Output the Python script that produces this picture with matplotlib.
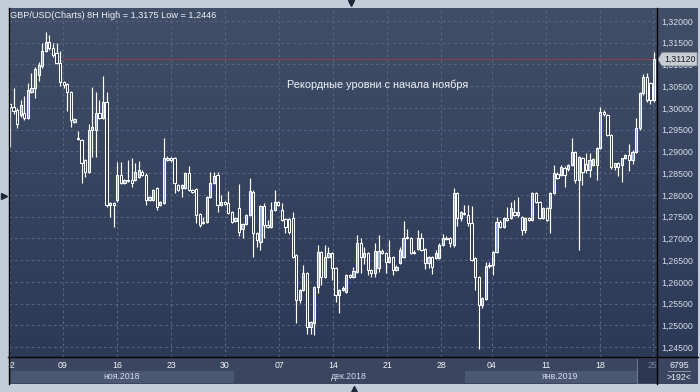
import numpy as np
import matplotlib
matplotlib.use("Agg")
import matplotlib.pyplot as plt
from matplotlib.patches import Rectangle, Polygon
from matplotlib.lines import Line2D
from matplotlib.colors import LinearSegmentedColormap

plt.rcParams['font.family'] = ['Liberation Sans', 'DejaVu Sans']

# ---------------- data (GBP/USD, 8H candles) ----------------
open_ = [
1.3009,1.3002,1.2995,1.2984,1.2988,1.2977,1.3037,1.3046,1.3076,1.3096,
1.3131,1.3152,1.3138,1.3126,1.3103,1.3060,1.3055,1.3037,1.2968,1.2929,
1.2926,1.2880,1.2853,1.2949,1.2949,1.2988,1.2977,1.3014,1.2777,1.2781,
1.2788,1.2846,1.2827,1.2831,1.2834,1.2834,1.2841,1.2853,1.2846,1.2788,
1.2788,1.2816,1.2777,1.2781,1.2880,1.2885,1.2885,1.2823,1.2816,1.2816,
1.2850,1.2811,1.2813,1.2756,1.2735,1.2738,1.2795,1.2827,1.2846,1.2777,
1.2784,1.2781,1.2760,1.2740,1.2770,1.2722,1.2733,1.2754,1.2807,1.2712,
1.2692,1.2774,1.2731,1.2726,1.2765,1.2784,1.2765,1.2744,1.2744,1.2747,
1.2662,1.2558,1.2581,1.2620,1.2496,1.2505,1.2588,1.2669,1.2611,1.2657,
1.2666,1.2632,1.2570,1.2581,1.2577,1.2616,1.2611,1.2623,1.2689,1.2657,
1.2666,1.2627,1.2620,1.2632,1.2671,1.2666,1.2646,1.2657,1.2627,1.2643,
1.2657,1.2701,1.2701,1.2666,1.2676,1.2701,1.2676,1.2643,1.2657,1.2655,
1.2655,1.2685,1.2701,1.2701,1.2685,1.2804,1.2747,1.2759,1.2754,1.2735,
1.2655,1.2611,1.2547,1.2561,1.2636,1.2639,1.2669,1.2738,1.2726,1.2747,
1.2747,1.2761,1.2754,1.2749,1.2719,1.2747,1.2742,1.2804,1.2784,1.2747,
1.2770,1.2770,1.2804,1.2848,1.2846,1.2862,1.2859,1.2869,1.2899,1.2834,
1.2885,1.2871,1.2857,1.2869,1.2869,1.2908,1.2991,1.2984,1.2938,1.2864,
1.2873,1.2869,1.2885,1.2892,1.2880,1.2899,1.2954,1.3034,1.3071,1.3057,
1.3018]

high = [
1.3012,1.3046,1.2999,1.3018,1.3028,1.3057,1.3080,1.3094,1.3106,1.3149,
1.3175,1.3168,1.3149,1.3149,1.3131,1.3062,1.3058,1.3040,1.2977,1.2947,
1.2929,1.2882,1.2964,1.3048,1.3037,1.3018,1.3073,1.3037,1.2784,1.2784,
1.2876,1.2876,1.2836,1.2880,1.2885,1.2873,1.2878,1.2857,1.2850,1.2797,
1.2814,1.2818,1.2786,1.2931,1.2890,1.2888,1.2888,1.2826,1.2826,1.2853,
1.2866,1.2814,1.2816,1.2758,1.2750,1.2797,1.2853,1.2853,1.2853,1.2800,
1.2786,1.2809,1.2763,1.2749,1.2825,1.2736,1.2757,1.2839,1.2811,1.2715,
1.2777,1.2781,1.2742,1.2784,1.2811,1.2786,1.2781,1.2747,1.2747,1.2761,
1.2665,1.2584,1.2639,1.2623,1.2510,1.2591,1.2685,1.2672,1.2685,1.2680,
1.2669,1.2635,1.2584,1.2590,1.2619,1.2619,1.2634,1.2708,1.2700,1.2680,
1.2669,1.2630,1.2690,1.2708,1.2675,1.2669,1.2696,1.2660,1.2639,1.2680,
1.2740,1.2722,1.2704,1.2673,1.2719,1.2712,1.2679,1.2660,1.2660,1.2673,
1.2690,1.2710,1.2705,1.2703,1.2816,1.2806,1.2763,1.2777,1.2777,1.2775,
1.2658,1.2614,1.2565,1.2645,1.2645,1.2672,1.2749,1.2742,1.2749,1.2772,
1.2784,1.2788,1.2795,1.2752,1.2749,1.2750,1.2806,1.2807,1.2787,1.2772,
1.2773,1.2806,1.2869,1.2853,1.2869,1.2866,1.2871,1.2931,1.2902,1.2890,
1.2888,1.2896,1.2896,1.2885,1.2911,1.3002,1.2995,1.2987,1.2941,1.2874,
1.2876,1.2885,1.2894,1.2918,1.2903,1.2976,1.3037,1.3078,1.3080,1.3060,
1.3129]

low = [
1.2910,1.2986,1.2954,1.2980,1.2972,1.2975,1.3034,1.3023,1.3062,1.3092,
1.3128,1.3134,1.3118,1.3100,1.3051,1.3046,1.2994,1.2957,1.2965,1.2927,
1.2827,1.2841,1.2850,1.2887,1.2887,1.2975,1.2975,1.2772,1.2749,1.2726,
1.2784,1.2825,1.2825,1.2829,1.2818,1.2831,1.2838,1.2843,1.2777,1.2786,
1.2786,1.2765,1.2774,1.2779,1.2878,1.2876,1.2804,1.2808,1.2796,1.2813,
1.2808,1.2804,1.2735,1.2726,1.2733,1.2735,1.2793,1.2825,1.2761,1.2775,
1.2777,1.2756,1.2735,1.2738,1.2706,1.2701,1.2730,1.2751,1.2657,1.2680,
1.2673,1.2701,1.2724,1.2724,1.2763,1.2775,1.2740,1.2712,1.2710,1.2655,
1.2506,1.2551,1.2578,1.2481,1.2481,1.2478,1.2574,1.2593,1.2608,1.2655,
1.2604,1.2554,1.2528,1.2578,1.2574,1.2608,1.2608,1.2620,1.2620,1.2640,
1.2616,1.2612,1.2612,1.2623,1.2664,1.2621,1.2643,1.2616,1.2624,1.2640,
1.2654,1.2698,1.2663,1.2664,1.2673,1.2671,1.2629,1.2632,1.2618,1.2652,
1.2652,1.2682,1.2696,1.2680,1.2680,1.2728,1.2740,1.2754,1.2728,1.2647,
1.2581,1.2446,1.2540,1.2558,1.2632,1.2616,1.2666,1.2724,1.2724,1.2740,
1.2744,1.2752,1.2750,1.2708,1.2712,1.2740,1.2740,1.2782,1.2745,1.2744,
1.2740,1.2712,1.2801,1.2836,1.2843,1.2818,1.2855,1.2866,1.2827,1.2673,
1.2823,1.2850,1.2841,1.2866,1.2834,1.2905,1.2982,1.2935,1.2860,1.2858,
1.2843,1.2830,1.2882,1.2854,1.2870,1.2896,1.2950,1.3030,1.3014,1.3009,
1.3014]

close = [
1.3003,1.2993,1.2963,1.3007,1.2977,1.3041,1.3046,1.3090,1.3099,1.3131,
1.3152,1.3138,1.3122,1.3103,1.3060,1.3053,1.3037,1.2972,1.2975,1.2931,
1.2873,1.2853,1.2949,1.2956,1.2988,1.2977,1.3014,1.2777,1.2781,1.2777,
1.2846,1.2827,1.2834,1.2833,1.2827,1.2853,1.2857,1.2846,1.2788,1.2795,
1.2811,1.2772,1.2784,1.2885,1.2885,1.2880,1.2827,1.2811,1.2823,1.2850,
1.2811,1.2807,1.2754,1.2731,1.2738,1.2795,1.2827,1.2843,1.2777,1.2784,
1.2779,1.2758,1.2738,1.2747,1.2715,1.2733,1.2754,1.2809,1.2712,1.2696,
1.2774,1.2731,1.2726,1.2765,1.2784,1.2777,1.2742,1.2726,1.2715,1.2657,
1.2558,1.2581,1.2620,1.2496,1.2508,1.2588,1.2669,1.2611,1.2657,1.2666,
1.2632,1.2570,1.2581,1.2586,1.2616,1.2611,1.2625,1.2689,1.2657,1.2666,
1.2627,1.2620,1.2671,1.2671,1.2666,1.2646,1.2657,1.2627,1.2634,1.2673,
1.2701,1.2703,1.2666,1.2669,1.2701,1.2673,1.2643,1.2657,1.2634,1.2666,
1.2685,1.2701,1.2699,1.2690,1.2804,1.2747,1.2761,1.2756,1.2735,1.2650,
1.2611,1.2547,1.2563,1.2636,1.2639,1.2669,1.2738,1.2726,1.2747,1.2742,
1.2770,1.2754,1.2761,1.2719,1.2747,1.2742,1.2804,1.2784,1.2747,1.2770,
1.2742,1.2804,1.2850,1.2839,1.2864,1.2846,1.2869,1.2899,1.2834,1.2887,
1.2853,1.2857,1.2880,1.2882,1.2908,1.2991,1.2986,1.2938,1.2864,1.2873,
1.2864,1.2885,1.2892,1.2880,1.2899,1.2954,1.3034,1.3071,1.3018,1.3018,
1.3112]

price_ticks = [1.245, 1.250, 1.255, 1.260, 1.265, 1.270, 1.275, 1.280,
               1.285, 1.290, 1.295, 1.300, 1.305, 1.310, 1.315, 1.320]
date_pos = [0, 14.8, 29.9, 45.0, 60.1, 75.2, 90.3, 105.4, 120.5, 134.7, 149.8, 164.9, 179.7]
date_labels = ['02', '09', '16', '23', '30', '07', '14', '21', '28', '04', '11', '18', '25']
month_labels = ['ноя.2018', 'дек.2018', 'янв.2019']
month_start = [0, 62.6, 126.9]
month_end = [62.6, 126.9, 180.84]
visible_bars = 192
bars_total = 6795
annotation = 'Рекордные уровни с начала ноября'

o = np.array(open_); c = np.array(close)
hi = np.maximum(np.array(high), np.maximum(o, c))
lo = np.minimum(np.array(low), np.minimum(o, c))
idx = np.arange(len(o))

# ---------------- layout ----------------
W, H = 700, 392
fig = plt.figure(figsize=(7, 3.92), dpi=100)
fig.patch.set_facecolor('#c3ccd8')

def fx(px):
    return px / W

def fy(py):
    return 1 - py / H

L, R, T, B = 9, 657, 8, 357
XMIN, XMAX = -0.28, 180.84
YMIN, YMAX = 1.24272, 1.32299

# gradient background for plot + right scale
bg = fig.add_axes([fx(L), fy(B), fx(698 - L), (B - T) / H], zorder=0)
cmap = LinearSegmentedColormap.from_list('g', ['#414e67', '#2c3957'])
bg.imshow(np.linspace(0, 1, 256)[:, None], cmap=cmap, aspect='auto', extent=[0, 1, 0, 1])
bg.axis('off')

# bottom date panel
axb = fig.add_axes([fx(L), fy(384), fx(R - L), (384 - B) / H], zorder=1)
axb.set_facecolor('#3a4660')
axb.set_xlim(XMIN, XMAX)
axb.set_ylim(0, 1)
axb.set_xticks([]); axb.set_yticks([])
for s in axb.spines.values():
    s.set_visible(False)
for k, (s0, s1, lab) in enumerate(zip(month_start, month_end, month_labels)):
    if k % 2 == 0:
        axb.axvspan(s0 + 0.2, s1, ymin=0.04, ymax=0.48, color='#4b5874', lw=0)
    axb.text((s0 + s1) / 2, 0.26, lab, ha='center', va='center', fontsize=6.3, color='#d4dbe8')
axb.axvspan(175.2, XMAX, ymin=0.04, ymax=0.93, color='#2b3651', lw=0, zorder=3)
axb.axvline(175.2, ymin=0.04, ymax=0.93, color='#6b7690', lw=0.8, zorder=4)

# main candle axes
ax = fig.add_axes([fx(L), fy(B), fx(R - L), (B - T) / H], zorder=2)
ax.set_facecolor('none')
ax.set_xlim(XMIN, XMAX)
ax.set_ylim(YMIN, YMAX)
for s in ax.spines.values():
    s.set_visible(False)

ax.set_yticks(price_ticks)
ax.set_yticklabels([f"{v:.5f}".replace('.', ',') for v in price_ticks])
ax.yaxis.tick_right()
ax.tick_params(axis='y', length=0, pad=2.9, labelsize=6.3, labelcolor='#d6deea')
ax.set_xticks(date_pos)
ax.set_xticklabels(date_labels)
ax.tick_params(axis='x', length=0, pad=3.2, labelsize=6.3, labelcolor='#f2f4f8')
for t in ax.get_xticklabels():
    t.set_clip_on(True)
    t.set_clip_box(axb.bbox)
ax.get_xticklabels()[0].set_x(0.9)
ax.get_xticklabels()[-1].set_color('#7c869b')
ax.grid(True, color='#56637e', linestyle=(0, (2.5, 2.5)), linewidth=0.8)
ax.set_axisbelow(True)

# last price line
ax.hlines(c[-1], 15.1, XMAX, colors='#c03838', linestyles=(0, (1.6, 1.6)), lw=0.9, zorder=1)

# candles
ax.vlines(idx, lo, hi, color='white', lw=0.85, zorder=2)
bull = c >= o
body_bottom = np.minimum(o, c)
body_h = np.maximum(np.abs(c - o), 0.00022)
ax.bar(idx, body_h, bottom=body_bottom, width=0.62,
       color=np.where(bull, '#93acd6', '#2f3c59'), edgecolor='white', linewidth=0.75, zorder=3)

ax.text(0.5694, 0.7794, annotation, transform=ax.transAxes, ha='center', va='center',
        fontsize=7.8, color='#eef2f8')

# title
fig.text(fx(10.5), fy(15.5),
         f"GBP/USD(Charts) 8H High = {hi.max():.4f} Low = {lo.min():.4f}".replace('.', ','),
         fontsize=6.6, color='#eef2f8', va='center', ha='left', zorder=7)

# bottom-right info box
fig.add_artist(Rectangle((fx(657), fy(384)), fx(698 - 657), (384 - 357) / H,
                         transform=fig.transFigure, facecolor='#3a4660', edgecolor='none', zorder=1))
fig.text(fx(679), fy(365), str(bars_total), ha='center', va='center', fontsize=6.3,
         color='#eef2f8', zorder=7)
fig.add_artist(Line2D([fx(668), fx(690)], [fy(371), fy(371)], color='#8d97ab', lw=0.7, zorder=7))
fig.text(fx(679), fy(377), f">{visible_bars}<", ha='center', va='center', fontsize=6.3,
         color='#eef2f8', zorder=7)

# price marker box at last close
yp = T + (YMAX - c[-1]) / (YMAX - YMIN) * (B - T)
pts = [(658, yp), (662, yp - 6.5), (697, yp - 6.5), (697, yp + 6.5), (662, yp + 6.5)]
fig.add_artist(Polygon([(fx(px), fy(py)) for px, py in pts], closed=True,
                       transform=fig.transFigure, facecolor='#c9cdd4', edgecolor='#a0a6b0',
                       lw=0.6, zorder=8))
fig.text(fx(680), fy(yp + 0.3), f"{c[-1]:.5f}".replace('.', ','), ha='center', va='center',
         fontsize=6.3, color='#1b1d22', zorder=9)

# frame lines
for (x0, y0, x1, y1) in [(8.5, 8, 8.5, 384), (657, 8, 657, 384), (8, 357, 698, 357)]:
    fig.add_artist(Line2D([fx(x0), fx(x1)], [fy(y0), fy(y1)], color='black', lw=1.0, zorder=10))

# small navigator triangles
fig.add_artist(Line2D([fx(351)], [fy(3)], marker='v', ms=4.5, color='#1d2838', lw=0, zorder=10))
fig.add_artist(Line2D([fx(3.5)], [fy(196)], marker='>', ms=5, color='#1d2838', lw=0, zorder=10))
fig.add_artist(Line2D([fx(354)], [fy(389)], marker='^', ms=4.5, color='#1d2838', lw=0, zorder=10))

fig.savefig('out.png', dpi=100, facecolor=fig.get_facecolor())
